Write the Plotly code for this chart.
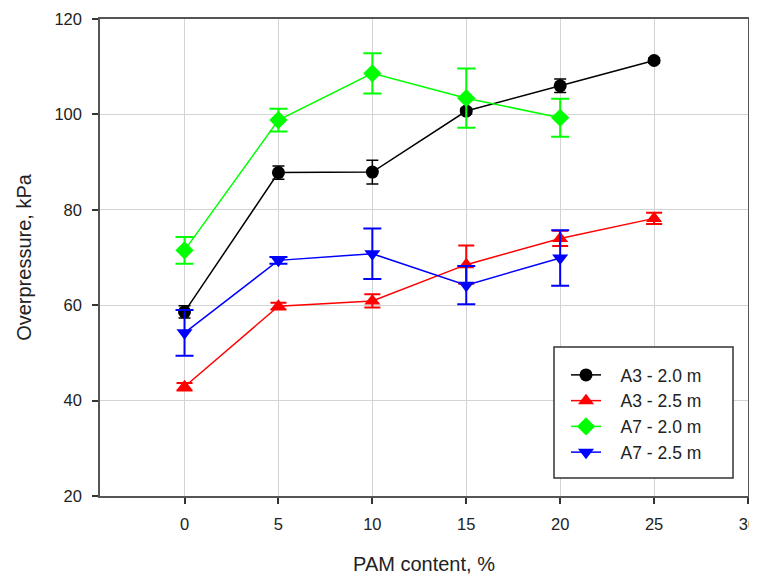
import plotly.graph_objects as go

pam = [0, 5, 10, 15, 20, 25]

a3_20 = [58.6, 87.8, 87.9, 100.7, 106.0, 111.3]
a3_20_err = [1.3, 1.4, 2.5, 0.6, 1.4, 0.5]

a3_25 = [42.9, 59.8, 60.9, 68.5, 74.0, 78.2]
a3_25_err = [0.8, 0.7, 1.4, 4.0, 1.6, 1.2]

pam_a7 = [0, 5, 10, 15, 20]
a7_20 = [71.5, 98.8, 108.6, 103.4, 99.3]
a7_20_err = [2.8, 2.4, 4.2, 6.2, 4.0]

a7_25 = [54.2, 69.4, 70.8, 64.2, 69.9]
a7_25_err = [4.8, 0.7, 5.3, 4.0, 5.8]

font = "Liberation Sans"
NB = "\u00a0\u00a0\u00a0"

fig = go.Figure()

def add(name, x, y, err, color, symbol, size, capw, thick):
    fig.add_trace(go.Scatter(
        x=x, y=y, name=NB + name, mode="lines+markers",
        line=dict(color=color, width=1.5),
        marker=dict(color=color, symbol=symbol, size=size, line=dict(width=0)),
        error_y=dict(type="data", array=err, visible=True, color=color,
                     thickness=thick, width=capw),
    ))

add("A3 - 2.0 m", pam, a3_20, a3_20_err, "black", "circle", 13, 6, 1.5)
add("A3 - 2.5 m", pam, a3_25, a3_25_err, "#ff0000", "triangle-up", 14, 8, 2)
add("A7 - 2.0 m", pam_a7, a7_20, a7_20_err, "#00ff00", "diamond", 14, 9, 2)
add("A7 - 2.5 m", pam_a7, a7_25, a7_25_err, "#0000ff", "triangle-down", 14, 9, 2)

axis_common = dict(
    showline=True, linecolor="#555555", linewidth=1.5, mirror=True,
    showgrid=True, gridcolor="#d3d3d3", gridwidth=1,
    ticks="outside", ticklen=6, tickcolor="#333333", tickwidth=1.5,
    tickfont=dict(family=font, size=16.5, color="#222222"),
    zeroline=False, automargin=False, ticklabeloverflow="allow",
)

fig.update_xaxes(range=[-4.5, 30], tickvals=[0, 5, 10, 15, 20, 25, 30],
                 ticklabelstandoff=6,
                 title=dict(text="PAM content, %", font=dict(family=font, size=20, color="#222222"), standoff=28),
                 **axis_common)
fig.update_yaxes(range=[20, 120], tickvals=[20, 40, 60, 80, 100, 120],
                 ticklabelstandoff=7,
                 title=dict(text="Overpressure, kPa", font=dict(family=font, size=20, color="#222222"), standoff=17),
                 **axis_common)

fig.add_shape(type="rect", xref="paper", yref="paper",
              x0=(554 - 100) / 648, x1=(733 - 100) / 648,
              y0=(496 - 478) / 477, y1=(496 - 347) / 477,
              line=dict(color="#333333", width=1.5), fillcolor="white", layer="above")

# the page body has an 8px margin, so the figure is 8px smaller and margins shifted
fig.update_layout(
    width=749, height=567,
    margin=dict(l=92, r=9, t=11, b=79),
    plot_bgcolor="white", paper_bgcolor="white",
    showlegend=True,
    legend=dict(x=(566 - 100) / 648, y=(496 - 357) / 477, xanchor="left", yanchor="top",
                bgcolor="rgba(0,0,0,0)", borderwidth=0,
                font=dict(family=font, size=17.5, color="#222222"),
                tracegroupgap=0),
)

fig.write_html("out.html")
